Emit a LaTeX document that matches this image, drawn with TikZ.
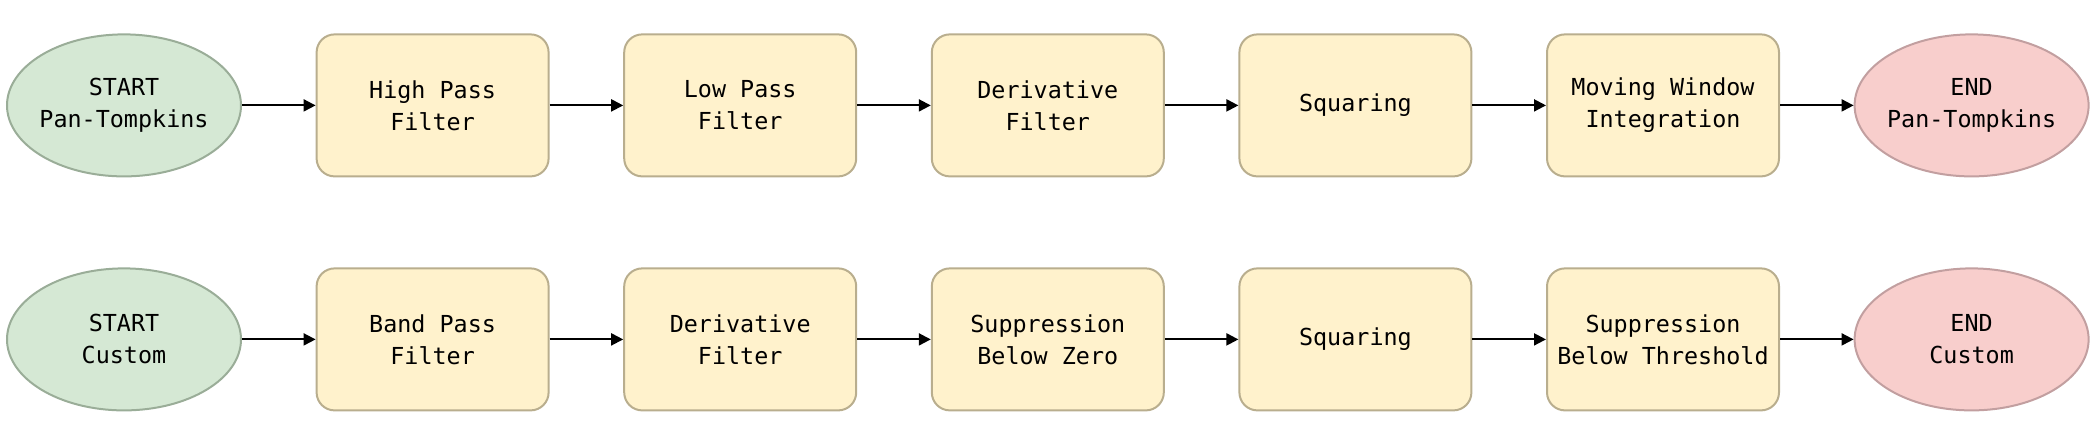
\documentclass[tikz,border=0pt]{standalone}
\usepackage{fontspec}
\setmonofont{DejaVu Sans Mono}
\usepackage{tikz}
\usetikzlibrary{shapes.geometric, arrows.meta, positioning}
\definecolor{StartFill}{HTML}{D5E8D4}
\definecolor{StartLine}{HTML}{9AAD98}
\definecolor{StageFill}{HTML}{FFF2CC}
\definecolor{StageLine}{HTML}{B9AE8E}
\definecolor{EndFill}{HTML}{F8CECC}
\definecolor{EndLine}{HTML}{C29FA0}

\begin{document}
\begin{tikzpicture}[
    node distance=36.8pt,
    stage/.style={rectangle, rounded corners=9pt, minimum width=116pt, minimum height=71pt,
                  draw=StageLine, fill=StageFill, line width=1pt, align=center,
                  font=\ttfamily\fontsize{11.7}{16}\selectfont},
    terminal/.style={ellipse, minimum width=117pt, minimum height=71pt, inner xsep=-12pt,
                     inner ysep=0pt, line width=1pt, align=center,
                     font=\ttfamily\fontsize{11.7}{16}\selectfont},
    flow/.style={-{Triangle[length=6pt,width=6pt]}, line width=1pt}
]
    \useasboundingbox (0,0) rectangle (1048.5pt,-221.5pt);

    % Pan-Tompkins row
    \node[terminal, draw=StartLine, fill=StartFill] (ptStart) at (62pt,-52.7pt) {START\\Pan-Tompkins};
    \node[stage, right=of ptStart] (ptHigh) {High Pass\\Filter};
    \node[stage, right=of ptHigh] (ptLow) {Low Pass\\Filter};
    \node[stage, right=of ptLow] (ptDeriv) {Derivative\\Filter};
    \node[stage, right=of ptDeriv] (ptSquare) {Squaring};
    \node[stage, right=of ptSquare] (ptMwi) {Moving Window\\Integration};
    \node[terminal, draw=EndLine, fill=EndFill, right=of ptMwi] (ptEnd) {END\\Pan-Tompkins};

    % Custom row
    \node[terminal, draw=StartLine, fill=StartFill] (cuStart) at (62pt,-169.7pt) {START\\Custom};
    \node[stage, right=of cuStart] (cuBand) {Band Pass\\Filter};
    \node[stage, right=of cuBand] (cuDeriv) {Derivative\\Filter};
    \node[stage, right=of cuDeriv] (cuZero) {Suppression\\Below Zero};
    \node[stage, right=of cuZero] (cuSquare) {Squaring};
    \node[stage, right=of cuSquare] (cuThresh) {Suppression\\Below Threshold};
    \node[terminal, draw=EndLine, fill=EndFill, right=of cuThresh] (cuEnd) {END\\Custom};

    % arrows
    \foreach \a/\b in {ptStart/ptHigh, ptHigh/ptLow, ptLow/ptDeriv, ptDeriv/ptSquare,
                       ptSquare/ptMwi, ptMwi/ptEnd, cuStart/cuBand, cuBand/cuDeriv,
                       cuDeriv/cuZero, cuZero/cuSquare, cuSquare/cuThresh, cuThresh/cuEnd}
        \draw[flow] (\a) -- (\b);
\end{tikzpicture}
\end{document}
